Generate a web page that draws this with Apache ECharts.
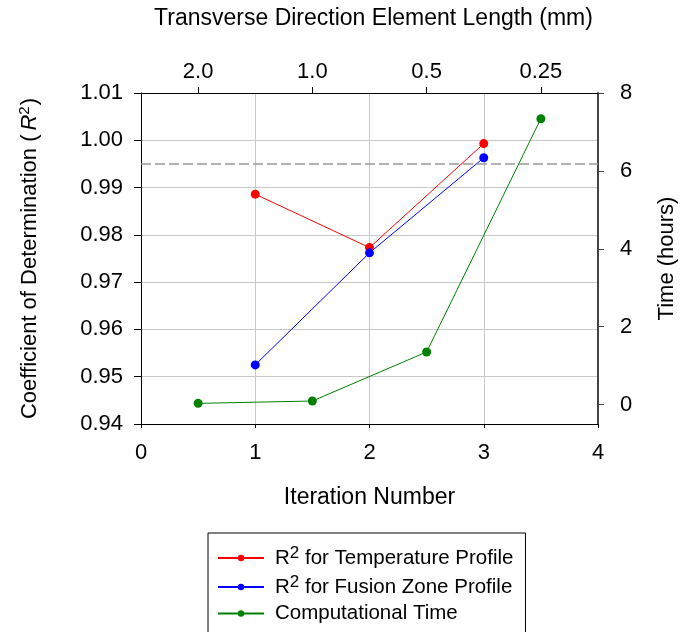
<!DOCTYPE html>
<html><head><meta charset="utf-8">
<script src="https://cdn.jsdelivr.net/npm/echarts@6/dist/echarts.min.js"></script>
<style>html,body{margin:0;padding:0;background:#fff}#c{width:681px;height:632px}</style>
</head><body><div id="c"></div>
<script>
const iterations = [1, 2, 3];
const timeIterations = [0.5, 1.5, 2.5, 3.5];
const r2Temperature = [0.9886, 0.9773, 0.9993];
const r2Fusion = [0.9525, 0.9762, 0.9963];
const compTime = [0.03, 0.09, 1.35, 7.34];
const topTickPositions = [0.5, 1.5, 2.5, 3.5];
const topTickLabels = ['2.0', '1.0', '0.5', '0.25'];
const rightTicks = [0, 2, 4, 6, 8];
const threshold = 0.995;

const FONT = "'Liberation Sans', Arial, sans-serif";
const chart = echarts.init(document.getElementById('c'), null, {renderer: 'canvas'});
const pairs = (xs, ys) => xs.map((x, i) => [x, ys[i]]);
const tick = {fontFamily: FONT, fontSize: 22, color: '#000'};
const rich = {
  t: {fontFamily: FONT, fontSize: 22, color: '#000'},
  i: {fontFamily: FONT, fontSize: 22, color: '#000', fontStyle: 'italic', padding: [0, 0, 0, 4]},
  s: {fontFamily: FONT, fontSize: 15, color: '#000', padding: [0, 1, 10, 0]},
  lt: {fontFamily: FONT, fontSize: 20.5, color: '#000', lineHeight: 24},
  ls: {fontFamily: FONT, fontSize: 17, color: '#000', lineHeight: 24, padding: [0, 0, 9, 0]}
};
const legendNames = {
  'temp': '{lt|R}{ls|2}{lt| for Temperature Profile}',
  'fusion': '{lt|R}{ls|2}{lt| for Fusion Zone Profile}',
  'time': '{lt|Computational Time}'
};
chart.setOption({
  animation: false,
  grid: {left: 141, right: 83, top: 93, bottom: 208, outerBoundsMode: 'none', containLabel: false},
  xAxis: [{
    type: 'value', min: 0, max: 4, interval: 1, position: 'bottom',
    name: 'Iteration Number', nameLocation: 'middle', nameGap: 62,
    nameTextStyle: {fontFamily: FONT, fontSize: 23, color: '#000'},
    axisLine: {show: true, onZero: false, lineStyle: {color: '#000', width: 1}},
    axisTick: {show: true, length: 4, lineStyle: {color: '#000'}},
    axisLabel: Object.assign({margin: 18}, tick),
    splitLine: {show: true, lineStyle: {color: '#c8c8c8', width: 1}}
  }, {
    type: 'value', min: 0, max: 4, position: 'top',
    name: 'Transverse Direction Element Length (mm)', nameLocation: 'middle', nameGap: 63,
    nameTextStyle: {fontFamily: FONT, fontSize: 23, color: '#000', padding: [0, 0, 0, 8]},
    axisLine: {show: true, onZero: false, lineStyle: {color: '#000', width: 1}},
    axisTick: {show: true, length: 6, customValues: topTickPositions, lineStyle: {color: '#000'}},
    axisLabel: Object.assign({margin: 10, customValues: topTickPositions,
      formatter: v => { const k = topTickPositions.indexOf(v); return k >= 0 ? topTickLabels[k] : ''; }}, tick),
    splitLine: {show: false}
  }],
  yAxis: [{
    type: 'value', min: 0.94, max: 1.01, interval: 0.01, position: 'left',
    name: '{t|Coefficient of Determination (}{i|R}{s|2}{t|)}', nameLocation: 'middle', nameGap: 99, nameRotate: 90,
    nameTextStyle: {rich: rich},
    axisLine: {show: true, onZero: false, lineStyle: {color: '#000', width: 1}},
    axisTick: {show: true, length: 7, lineStyle: {color: '#000'}},
    axisLabel: Object.assign({margin: 18, formatter: v => v.toFixed(2)}, tick),
    splitLine: {show: true, lineStyle: {color: '#c8c8c8', width: 1}}
  }, {
    type: 'value', min: -0.5, max: 8, position: 'right',
    name: 'Time (hours)', nameLocation: 'middle', nameGap: 58, nameRotate: 90,
    nameTextStyle: {fontFamily: FONT, fontSize: 22, color: '#000'},
    axisLine: {show: true, onZero: false, lineStyle: {color: '#444', width: 2}},
    axisTick: {show: true, length: 6, customValues: rightTicks, lineStyle: {color: '#444'}},
    axisLabel: Object.assign({margin: 22, customValues: rightTicks}, tick),
    splitLine: {show: false}
  }],
  legend: {
    orient: 'vertical', left: 208, top: 533, height: 200,
    padding: [12, 12, 30, 9], itemGap: 3,
    itemWidth: 46, itemHeight: 8,
    borderColor: '#000', borderWidth: 1, backgroundColor: '#fff',
    data: ['temp', 'fusion', 'time'],
    formatter: n => legendNames[n],
    textStyle: {rich: rich, padding: [0, 0, 0, 6]}
  },
  series: [{
    name: 'temp', type: 'line', data: pairs(iterations, r2Temperature),
    symbol: 'circle', symbolSize: 9, color: '#ff0000',
    lineStyle: {width: 1, color: '#ff0000'}, itemStyle: {color: '#ff0000'},
    markLine: {silent: true, symbol: 'none', label: {show: false}, precision: 4,
      lineStyle: {type: [10, 4], color: '#999', width: 1.5},
      data: [{yAxis: threshold}]}
  }, {
    name: 'fusion', type: 'line', data: pairs(iterations, r2Fusion),
    symbol: 'circle', symbolSize: 9, color: '#0000ff',
    lineStyle: {width: 1, color: '#0000ff'}, itemStyle: {color: '#0000ff'}
  }, {
    name: 'time', type: 'line', yAxisIndex: 1, data: pairs(timeIterations, compTime),
    symbol: 'circle', symbolSize: 9, color: '#008000',
    lineStyle: {width: 1, color: '#008000'}, itemStyle: {color: '#008000'}
  }]
});
</script></body></html>
